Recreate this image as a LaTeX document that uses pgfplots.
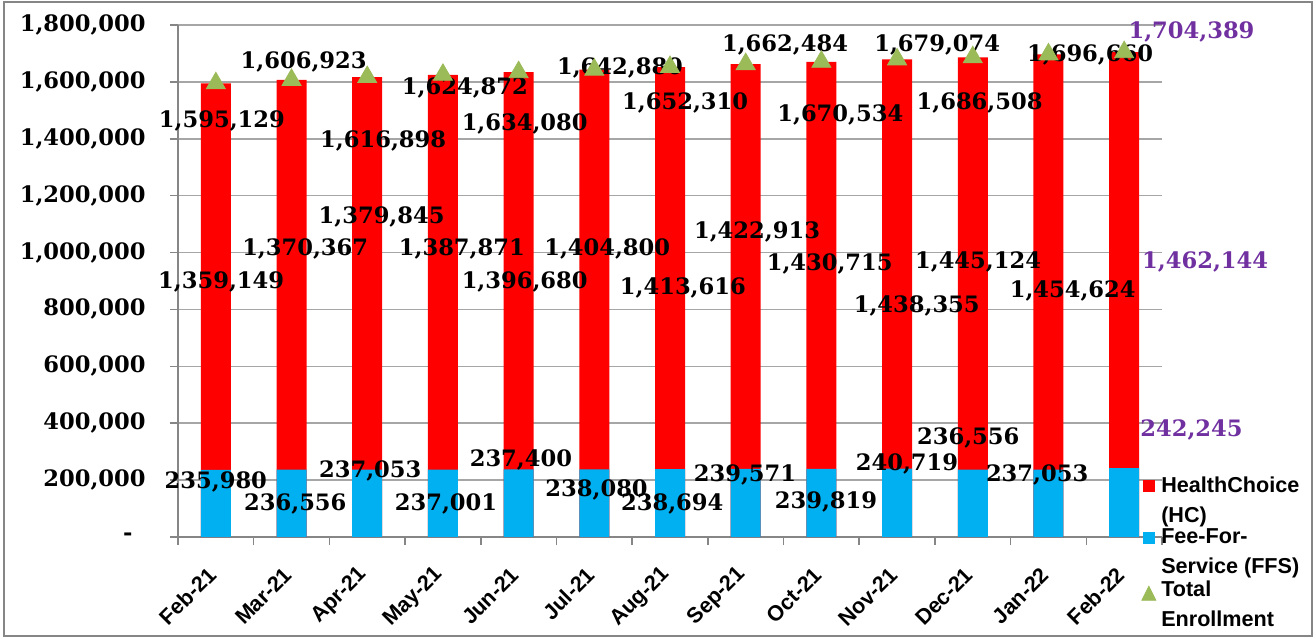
\documentclass[border=0pt]{standalone}
\usepackage{fontspec}
\setmainfont{DejaVu Serif}
\newfontfamily\lsans{Liberation Sans}
\usepackage{pgfplots}
\pgfplotsset{compat=1.18}
\definecolor{hcred}{HTML}{FF0000}
\definecolor{ffsblue}{HTML}{00B0F0}
\definecolor{tgreen}{HTML}{9BBB59}
\definecolor{lblpurple}{HTML}{7030A0}
\definecolor{gridgray}{HTML}{A6A6A6}
\definecolor{axisgray}{HTML}{868686}
\newcommand{\lab}{\fontsize{11.3}{13}\selectfont\bfseries}
\newcommand{\sml}{\lsans\fontsize{10.8}{13}\selectfont\bfseries}
\begin{document}
\begin{tikzpicture}
\useasboundingbox (-89pt,-50.5pt) rectangle (569pt,268.5pt);
\begin{axis}[
  at={(0pt,0pt)}, anchor=south west,
  scale only axis, width=492pt, height=256pt,
  xmin=-0.5, xmax=12.5, ymin=0, ymax=1800000,
  clip=false,
  scaled y ticks=false,
  axis lines*=left,
  axis line style={draw=axisgray, line width=0.8pt},
  xtick={0,...,12},
  xticklabels={Feb-21,Mar-21,Apr-21,May-21,Jun-21,Jul-21,Aug-21,Sep-21,Oct-21,Nov-21,Dec-21,Jan-22,Feb-22},
  minor xtick={-0.5,0.5,...,12.5},
  major x tick style={draw=none},
  minor x tick style={draw=axisgray, line width=0.8pt},
  ytick={0,200000,...,1800000},
  yticklabels={{-\hspace*{6.5pt}},{200,000},{400,000},{600,000},{800,000},{1,000,000},{1,200,000},{1,400,000},{1,600,000},{1,800,000}},
  tick align=outside,
  major tick length=4pt, minor tick length=4pt,
  y tick style={draw=axisgray, line width=0.8pt},
  ymajorgrids, grid style={draw=gridgray, line width=0.8pt},
  yticklabel style={font=\lab, anchor=east, inner sep=0pt, xshift=-12pt},
  xticklabel style={font=\sml, rotate=45, anchor=east, inner sep=0pt, xshift=-10.4pt, yshift=-8.1pt},
  legend style={at={(0.9787,0.123)}, anchor=north west, draw=none, fill=none, font=\sml,
     cells={anchor=west, align=left}, nodes={inner sep=1pt}, row sep=0pt, column sep=1.5pt, inner sep=0pt},
  legend cell align=left,
]
% red bars = total height (HC on top of FFS)
\addplot[ybar, bar width=15pt, bar shift=0pt, fill=hcred, draw=none, forget plot] coordinates {
(0,1595129) (1,1606923) (2,1616898) (3,1624872) (4,1634080) (5,1642880) (6,1652310)
(7,1662484) (8,1670534) (9,1679074) (10,1686508) (11,1696660) (12,1704389)};
% FFS bars
\addplot[ybar, bar width=15pt, bar shift=0pt, fill=ffsblue, draw=none, forget plot] coordinates {
(0,235980) (1,236556) (2,237053) (3,237001) (4,237400) (5,238080) (6,238694)
(7,239571) (8,239819) (9,240719) (10,236556) (11,237053) (12,242245)};
% total enrollment
\addplot[only marks, mark=triangle*, mark size=5.5pt, color=tgreen, forget plot] coordinates {
(0,1595129) (1,1606923) (2,1616898) (3,1624872) (4,1634080) (5,1642880) (6,1652310)
(7,1662484) (8,1670534) (9,1679074) (10,1686508) (11,1696660) (12,1704389)};
\addlegendimage{legend image code/.code={\path[draw=none,fill=none] (0pt,-10.25pt) rectangle (5.5pt,10.25pt); \fill[hcred] (0pt,4.75pt) rectangle (5.5pt,10.25pt);}}
\addlegendentry{HealthChoice\\[2pt](HC)}
\addlegendimage{legend image code/.code={\path[draw=none,fill=none] (0pt,-10.25pt) rectangle (5.5pt,10.25pt); \fill[ffsblue] (0pt,4.75pt) rectangle (5.5pt,10.25pt);}}
\addlegendentry{Fee-For-\\[2pt]Service (FFS)}
\addlegendimage{legend image code/.code={\path[draw=none,fill=none] (0pt,-10.25pt) rectangle (5.5pt,10.25pt); \fill[tgreen] (2.75pt,9.5pt) -- (-0.75pt,2.5pt) -- (6.25pt,2.5pt) -- cycle;}}
\addlegendentry{Total\\[2pt]Enrollment}
% totals labels
\begin{scope}[every node/.style={font=\lab, inner sep=0pt}]
\node at (0.08,1460900) {1,595,129};
\node at (1.16,1670600) {1,606,923};
\node at (2.21,1391000) {1,616,898};
\node at (3.29,1579700) {1,624,872};
\node at (4.08,1450400) {1,634,080};
\node at (5.34,1649600) {1,642,880};
\node at (6.20,1527300) {1,652,310};
\node at (7.52,1730000) {1,662,484};
\node at (8.25,1485400) {1,670,534};
\node at (9.53,1730000) {1,679,074};
\node at (10.09,1527300) {1,686,508};
\node at (11.55,1695100) {1,696,660};
\node[text=lblpurple] at (12.89,1775500) {1,704,389};
% HC labels
\node at (0.07,898200) {1,359,149};
\node at (1.18,1013600) {1,370,367};
\node at (2.19,1125400) {1,379,845};
\node at (3.25,1013600) {1,387,871};
\node at (4.08,898200) {1,396,680};
\node at (5.17,1013600) {1,404,800};
\node at (6.17,873800) {1,413,616};
\node at (7.15,1073000) {1,422,913};
\node at (8.11,961100) {1,430,715};
\node at (9.26,810800) {1,438,355};
\node at (10.07,968100) {1,445,124};
\node at (11.32,863300) {1,454,624};
\node[text=lblpurple] at (13.07,968100) {1,462,144};
% FFS labels
\node at (0,192200) {235,980};
\node at (1.05,115300) {236,556};
\node at (2.04,230700) {237,053};
\node at (3.04,115300) {237,001};
\node at (4.03,269100) {237,400};
\node at (5.03,164300) {238,080};
\node at (6.03,115300) {238,694};
\node at (6.99,216700) {239,571};
\node at (8.06,122300) {239,819};
\node at (9.13,255100) {240,719};
\node at (9.94,349500) {236,556};
\node at (10.85,216700) {237,053};
\node[text=lblpurple] at (12.89,377500) {242,245};
\end{scope}
\end{axis}
\draw[axisgray, line width=0.8pt] (-87pt,-49.5pt) rectangle (567pt,267.5pt);
\end{tikzpicture}
\end{document}
